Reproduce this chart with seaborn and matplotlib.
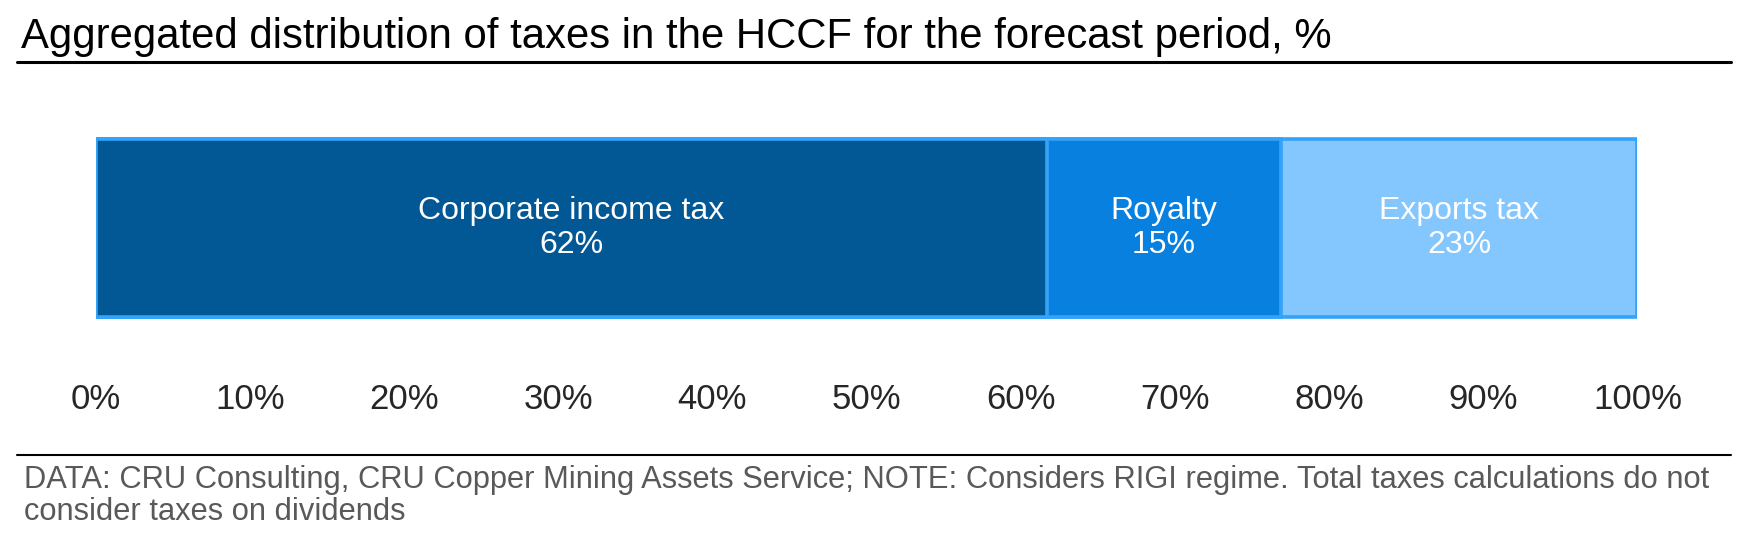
import matplotlib
matplotlib.use("Agg")
import matplotlib.pyplot as plt
from matplotlib.lines import Line2D
import numpy as np
import pandas as pd
import seaborn as sns

# datos
categorias = ["Corporate income tax", "Royalty", "Exports tax"]
valores = [61.7, 15.2, 23.1]
etiquetas_valor = ["62%", "15%", "23%"]
colores = ["#025795", "#0780E0", "#84C6FE"]
ticks = [0, 10, 20, 30, 40, 50, 60, 70, 80, 90, 100]
tick_labels = [f"{t}%" for t in ticks]

titulo = "Aggregated distribution of taxes in the HCCF for the forecast period, %"
nota_1 = ("DATA: CRU Consulting, CRU Copper Mining Assets Service; NOTE: Considers RIGI regime. "
          "Total taxes calculations do not")
nota_2 = "consider taxes on dividends"

sns.set_style("white")
plt.rcParams["font.family"] = ["Liberation Sans", "DejaVu Sans"]

W, H = 1765, 542
fig = plt.figure(figsize=(W / 100, H / 100), dpi=100)
ax = fig.add_axes([95.5 / W, 1 - 326 / H, (1637.5 - 95.5) / W, 196 / H])

# barras apiladas: se dibujan acumulados de mayor a menor
acumulado = np.cumsum(valores)
inicio = acumulado - np.array(valores)
df = pd.DataFrame({"grupo": ["total"] * len(categorias),
                   "categoria": categorias,
                   "acumulado": acumulado})
for i in reversed(range(len(categorias))):
    sns.barplot(data=df.iloc[[i]], x="acumulado", y="grupo", orient="h",
                color=colores[i], width=0.8, edgecolor="#33A3FA",
                linewidth=2.6, saturation=1, ax=ax)

for cat, lab, x0, v in zip(categorias, etiquetas_valor, inicio, valores):
    ax.text(x0 + v / 2, 0, f"{cat}\n{lab}", ha="center", va="center",
            color="white", fontsize=23, linespacing=1.15)

ax.set_xlim(0, 100)
ax.set_ylim(0.4404, -0.4404)
ax.set_xticks(ticks)
ax.set_xticklabels(tick_labels, fontsize=25)
ax.tick_params(axis="x", length=0, pad=41)
ax.set_yticks([])
ax.set_xlabel("")
ax.set_ylabel("")
sns.despine(ax=ax, left=True, bottom=True)

# titulo y linea inferior
fig.text(21 / W, 1 - 48 / H, titulo, fontsize=30.2, va="baseline", ha="left", color="black")
fig.add_artist(Line2D([17 / W, 1731 / W], [1 - 62 / H, 1 - 62 / H], color="black", linewidth=2.2))

# pie de grafico
fig.add_artist(Line2D([17 / W, 1731 / W], [1 - 455 / H, 1 - 455 / H], color="black", linewidth=1.5))
fig.text(24 / W, 1 - 488 / H, nota_1, fontsize=22.25, va="baseline", ha="left", color="#595959")
fig.text(24 / W, 1 - 520 / H, nota_2, fontsize=22.25, va="baseline", ha="left", color="#595959")

fig.savefig("out.png", dpi=100)
